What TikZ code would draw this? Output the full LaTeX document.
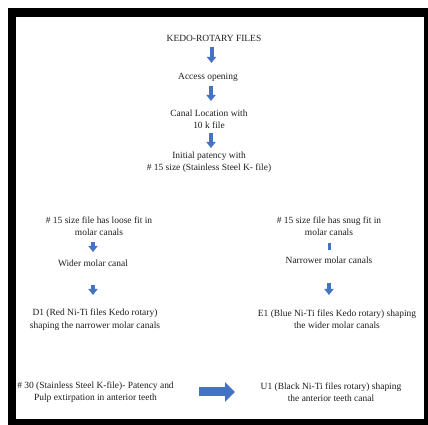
\documentclass[tikz,border=0pt]{standalone}
\usepackage{fontspec}
\setmainfont{Liberation Serif}
\usetikzlibrary{arrows.meta}
\definecolor{txt}{HTML}{1E1E1E}
\definecolor{arrblue}{HTML}{4472C4}
\begin{document}
\begin{tikzpicture}[x=1pt,y=1pt,
  lbl/.style={align=center,inner sep=0pt,text=txt,font=\fontsize{9.45}{12.4}\selectfont},
  darr/.style={draw=arrblue,line width=4pt,-{Triangle[width=9pt,length=6pt]}},
  rarr/.style={draw=arrblue,line width=9pt,-{Triangle[width=19pt,length=10pt]}}]
\useasboundingbox (0,0) rectangle (428,425);
\fill[white] (0,0) rectangle (428,425);
\fill[black] (8,0) rectangle (428,417);
\fill[white] (16,6) rectangle (424,408);

\node[lbl] (title) at (214,387) {KEDO-ROTARY FILES};
\node[lbl] (access) at (208,348) {Access opening};
\node[lbl] (canal) at (209,305.5) {Canal Location with\\10 k file};
\node[lbl] (initial) at (209,262.5) {Initial patency with\\\# 15 size (Stainless Steel K- file)};
\node[lbl] (loose) at (99,199) {\# 15 size file has loose fit in\\molar canals};
\node[lbl] (wider) at (93,162) {Wider molar canal};
\node[lbl] (d1) at (95,105.5) {D1 (Red Ni-Ti files Kedo rotary)\\shaping the narrower molar canals};
\node[lbl] (snug) at (329,199) {\# 15 size file has snug fit in\\molar canals};
\node[lbl] (narrower) at (329,165) {Narrower molar canals};
\node[lbl] (e1) at (337,105.5) {E1 (Blue Ni-Ti files Kedo rotary) shaping\\the wider molar canals};
\node[lbl] (s30) at (95.5,33) {\# 30 (Stainless Steel K-file)- Patency and\\Pulp extirpation in anterior teeth};
\node[lbl] (u1) at (331,33) {U1 (Black Ni-Ti files rotary) shaping\\the anterior teeth canal};

\draw[darr] ([xshift=-2.5pt,yshift=-9pt]title.center) -- ([xshift=3.5pt,yshift=14pt]access.center);
\draw[darr] ([xshift=3pt,yshift=-9pt]access.center) -- ([xshift=2pt,yshift=18.5pt]canal.center);
\draw[darr] ([xshift=2pt,yshift=-13.5pt]canal.center) -- ([xshift=2pt,yshift=14.5pt]initial.center);
\draw[darr] ([xshift=-6pt,yshift=-16pt]loose.center) -- ([yshift=11pt]wider.center);
\draw[darr] ([yshift=-22pt]wider.center) -- ([xshift=-2pt,yshift=24.5pt]d1.center);
\draw[draw=arrblue,line width=3pt] ([yshift=-17pt]snug.center) -- ([yshift=10pt]narrower.center);
\draw[darr] ([yshift=-23pt]narrower.center) -- ([xshift=-8pt,yshift=24.5pt]e1.center);
\draw[rarr] ([xshift=103.5pt]s30.center) -- ([xshift=-96pt]u1.center);
\end{tikzpicture}
\end{document}
